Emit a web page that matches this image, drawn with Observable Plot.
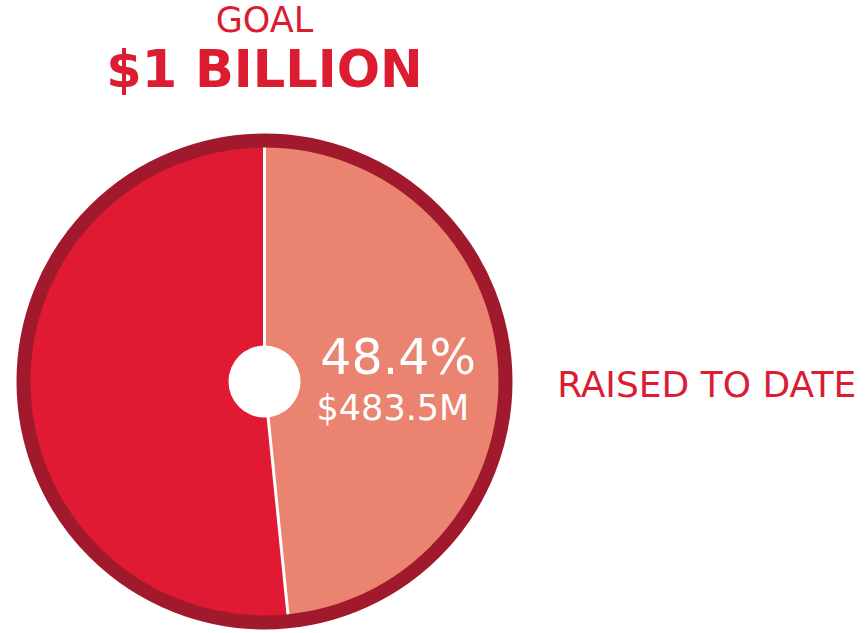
<!DOCTYPE html>
<html><head><meta charset="utf-8">
<script src="https://cdn.jsdelivr.net/npm/d3@7"></script>
<script src="https://cdn.jsdelivr.net/npm/@observablehq/plot@0.6"></script>
<style>body{margin:0;background:#fff;font-family:"DejaVu Sans",sans-serif}</style>
</head><body><div id="chart"></div>
<script>
const categories = ["Raised to date", "Remaining"];
const shares = [48.4, 51.6];
const amounts = ["$483.5M", "$516.5M"];
const goalLabel = "GOAL";
const goalValue = "$1 BILLION";
const raisedLabel = "RAISED TO DATE";
const colors = ["#EA8470", "#E11A33"];

const pie = d3.pie().sort(null).value(d => d)(shares);
const R = 241 / 248;
const wedgePts = [];
pie.forEach((p, i) => {
  const steps = 120;
  wedgePts.push({k: i, x: 0, y: 0});
  for (let s = 0; s <= steps; s++) {
    const a = p.startAngle + (p.endAngle - p.startAngle) * s / steps;
    wedgePts.push({k: i, x: R * Math.sin(a), y: R * Math.cos(a)});
  }
});
const sepPts = [];
pie.forEach((p, i) => {
  sepPts.push({k: i, x: 0, y: 0}, {k: i, x: R * Math.sin(p.startAngle), y: R * Math.cos(p.startAngle)});
});

const red = "#DC1C31";
const F = "DejaVu Sans";
const chart = Plot.plot({
  width: 865, height: 633,
  margin: 0,
  x: {domain: [-1, 1], range: [16, 512], axis: null},
  y: {domain: [-1, 1], range: [629, 133], axis: null},
  marks: [
    Plot.line(wedgePts, {x: "x", y: "y", z: "k", fill: d => colors[d.k], stroke: "none", curve: "linear-closed"}),
    Plot.line(sepPts, {x: "x", y: "y", z: "k", stroke: "white", strokeWidth: 3}),
    Plot.dot([0], {x: 0, y: 0, r: 241, stroke: "#A0192D", strokeWidth: 14, fill: "none"}),
    Plot.dot([0], {x: 0, y: 0, r: 36, fill: "white", stroke: "none"}),
    Plot.text([`${shares[0]}%`], {x: 0.225, y: 0.095, text: d => d, textAnchor: "start", fill: "white", fontSize: 49, fontFamily: F, lineAnchor: "middle"}),
    Plot.text([amounts[0]], {x: 0.21, y: -0.11, text: d => d, textAnchor: "start", fill: "white", fontSize: 35, fontFamily: F, lineAnchor: "middle"}),
    Plot.text([goalLabel], {x: 0, y: 1.455, text: d => d, fill: red, fontSize: 35, fontWeight: 500, fontFamily: F, lineAnchor: "middle"}),
    Plot.text([goalValue], {x: 0, y: 1.255, text: d => d, fill: red, fontSize: 51, fontWeight: "bold", fontFamily: F, lineAnchor: "middle"}),
    Plot.text([raisedLabel], {x: 1.18, y: -0.015, text: d => d, textAnchor: "start", fill: red, fontSize: 36, fontFamily: F, lineAnchor: "middle"})
  ]
});
document.getElementById("chart").appendChild(chart);
</script></body></html>
